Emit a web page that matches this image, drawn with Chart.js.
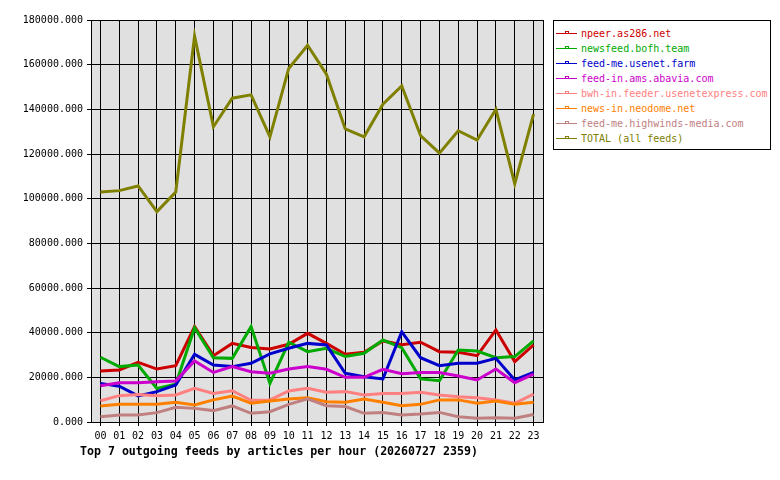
<!DOCTYPE html>
<html>
<head>
<meta charset="utf-8">
<script src="https://cdn.jsdelivr.net/npm/chart.js@4/dist/chart.umd.min.js"></script>
<style>
  html, body { margin: 0; padding: 0; background: #fff; }
  #wrap { position: relative; width: 780px; height: 480px; }
  canvas { position: absolute; left: 0; top: 0; }
  #legend { position: absolute; left: 553px; top: 20px; width: 216px; height: 128px;
    border: 1px solid #000; background: #fff; font-family: "DejaVu Sans Mono", monospace; font-size: 10px; }
  .row { position: absolute; left: 2px; height: 15px; line-height: 15px; white-space: nowrap; }
  .row svg { position: absolute; left: 0; top: 2px; }
  .row span { position: absolute; left: 25px; top: 0; }
  #title { position: absolute; left: 80px; top: 444px; font-family: "DejaVu Sans Mono", monospace;
    font-weight: bold; font-size: 11.6px; white-space: nowrap; color: #000; }
</style>
</head>
<body>
<div id="wrap">
  <canvas id="c" width="780" height="480"></canvas>
  <div id="legend"></div>
  <div id="title">Top 7 outgoing feeds by articles per hour (20260727 2359)</div>
</div>
<script>
const hours = ['00','01','02','03','04','05','06','07','08','09','10','11','12','13','14','15','16','17','18','19','20','21','22','23'];

const seriesNames = [
  'npeer.as286.net',
  'newsfeed.bofh.team',
  'feed-me.usenet.farm',
  'feed-in.ams.abavia.com',
  'bwh-in.feeder.usenetexpress.com',
  'news-in.neodome.net',
  'feed-me.highwinds-media.com',
  'TOTAL (all feeds)'
];

const npeer     = [22800,23300,26700,23700,25200,42700,29700,35200,33400,32700,34800,39700,35200,30300,31200,36300,34600,35700,31500,31200,29700,41200,27000,34500];
const bofh      = [29000,24800,25500,15000,16900,42200,28800,28500,42700,17300,35700,31500,33000,29300,30800,36700,33300,19300,18500,32200,31800,28800,29300,36300];
const usenetFarm= [17300,16000,11700,13600,16600,30300,25500,24800,26300,30500,33000,35200,34500,21800,20300,19300,40400,28800,25200,26300,26300,28500,18800,22200];
const abavia    = [16200,17600,17600,18000,18400,27300,22200,24800,22500,21800,23700,24800,23600,20000,20000,23600,21600,22200,22200,20600,18800,23700,17600,21400];
const bwh       = [9500,11800,12300,11800,12100,15100,12800,14000,9700,9900,13900,15100,13300,13600,12100,12800,12800,13300,12100,11300,10900,9900,8400,12500];
const neodome   = [7200,7900,7900,7900,8800,7600,9900,11600,8400,9400,10300,10900,9100,8800,10300,8800,7300,7900,9900,9900,8400,9400,7900,8800];
const highwinds = [2400,3100,3100,4200,6600,6100,5100,7200,3900,4600,7900,10400,7300,6900,3900,4300,3100,3600,4300,2400,1700,1900,1700,3400];
const total     = [103000,103600,105700,94200,103000,172800,132200,145000,146500,127700,158300,168700,155700,131200,127700,142300,150500,128200,120400,130400,126200,140000,106600,137900];

const yTickMin = 0, yTickMax = 180000, yTickStep = 20000;

const seriesValues = [npeer, bofh, usenetFarm, abavia, bwh, neodome, highwinds, total];
const seriesColors = ['#cc0000','#00aa00','#0000cc','#cc00cc','#ff8080','#ff8000','#c08080','#808000'];

const datasets = seriesValues.map((vals, i) => ({
  label: seriesNames[i],
  data: vals,
  borderColor: seriesColors[i],
  backgroundColor: seriesColors[i],
  borderWidth: 3,
  pointRadius: 0,
  tension: 0,
  fill: false,
  order: seriesValues.length - i
}));

const bgPlugin = {
  id: 'plotbg',
  beforeDraw(chart) {
    const {ctx, chartArea: a} = chart;
    ctx.save();
    ctx.fillStyle = '#e0e0e0';
    ctx.fillRect(a.left, a.top, a.right - a.left, a.bottom - a.top);
    ctx.restore();
  },
  afterDraw(chart) {
    const {ctx, chartArea: a} = chart;
    ctx.save();
    ctx.strokeStyle = '#000';
    ctx.lineWidth = 1;
    ctx.strokeRect(Math.round(a.left) + 0.5, Math.round(a.top) + 0.5, Math.round(a.right - a.left), Math.round(a.bottom - a.top));
    ctx.restore();
  }
};

const monoFont = { family: '"DejaVu Sans Mono", monospace', size: 10 };

new Chart(document.getElementById('c'), {
  type: 'line',
  data: { labels: hours, datasets },
  plugins: [bgPlugin],
  options: {
    responsive: false,
    animation: false,
    devicePixelRatio: 1,
    layout: { padding: { top: 20, right: 237, bottom: 0, left: 0 } },
    plugins: { legend: { display: false }, title: { display: false }, tooltip: { enabled: false } },
    scales: {
      x: {
        offset: true,
        grid: { offset: false, color: '#000', lineWidth: 1, tickLength: 4, drawOnChartArea: true },
        border: { color: '#000' },
        ticks: { color: '#000', font: monoFont, padding: 4, maxRotation: 0, autoSkip: false },
        afterFit(scale) { scale.height = 58; }
      },
      y: {
        min: yTickMin, max: yTickMax,
        grid: { color: '#000', lineWidth: 1, tickLength: 4 },
        border: { color: '#000' },
        ticks: { stepSize: yTickStep, color: '#000', font: monoFont, padding: 4,
          callback: v => Number(v).toFixed(3) },
        afterFit(scale) { scale.width = 91; }
      }
    }
  }
});

// HTML legend built from the series names/colors
const legend = document.getElementById('legend');
seriesNames.forEach((name, i) => {
  const row = document.createElement('div');
  row.className = 'row';
  row.style.top = (5 + i * 15) + 'px';
  const c = seriesColors[i];
  row.innerHTML = '<svg width="21" height="10"><line x1="0" y1="5.5" x2="21" y2="5.5" stroke="' + c + '" stroke-width="1"/>' +
    '<rect x="9.5" y="3.5" width="3" height="2" fill="none" stroke="' + c + '" stroke-width="1"/></svg>' +
    '<span style="color:' + c + '">' + name + '</span>';
  legend.appendChild(row);
});
</script>
</body>
</html>
